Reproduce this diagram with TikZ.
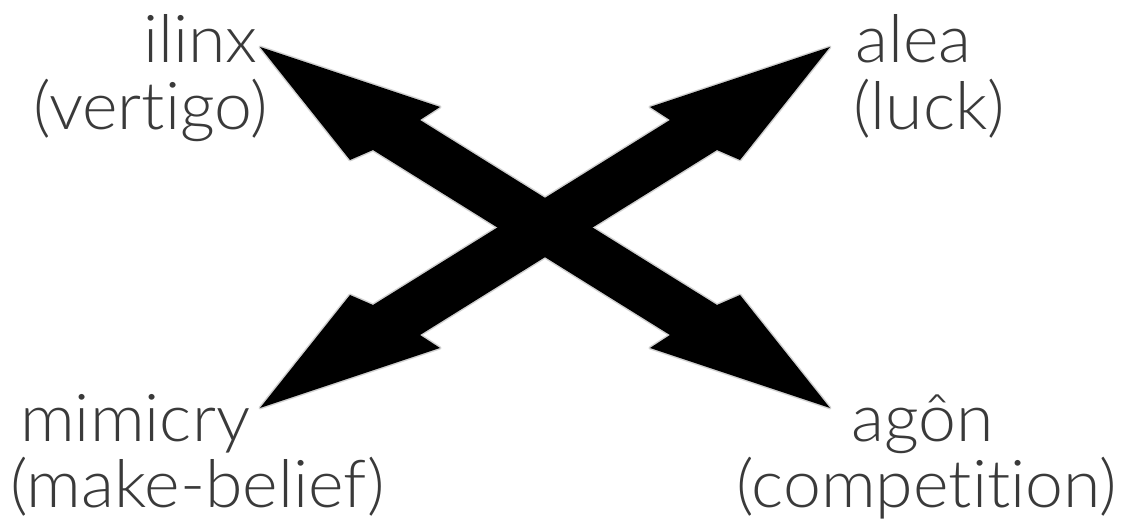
\documentclass[tikz,border=0pt]{standalone}
\usepackage{fontspec}
\setmainfont{Lato Light}[Ligatures=NoCommon, FakeStretch=1.03]
\definecolor{labelgray}{RGB}{58,58,58}
\begin{document}
\begin{tikzpicture}[x=1pt,y=-1pt,
  lbl/.style={inner sep=0pt, font=\fontsize{66}{67}\selectfont, text=labelgray},
  bigarrow/.style={fill=black, draw=black!18, line width=3pt, line join=round}]
\useasboundingbox (0,0) rectangle (1128,526);
% arrow tips
\coordinate (tIlinx) at (260,47);
\coordinate (tAgon) at (830,408);
\coordinate (tAlea) at (830,47);
\coordinate (tMimicry) at (260,408);
% double arrow ilinx <-> agon
\path[bigarrow] (tIlinx) -- (440,107) -- (420,120) -- (717,305) -- (740,295) -- (tAgon)
  -- (650,348) -- (670,335) -- (373,150) -- (350,160) -- cycle;
% double arrow alea <-> mimicry
\path[bigarrow] (tAlea) -- (650,107) -- (670,120) -- (373,305) -- (350,295) -- (tMimicry)
  -- (440,348) -- (420,335) -- (717,150) -- (740,160) -- cycle;
\fill[black] (tIlinx) -- (440,107) -- (420,120) -- (717,305) -- (740,295) -- (tAgon)
  -- (650,348) -- (670,335) -- (373,150) -- (350,160) -- cycle;
\fill[black] (tAlea) -- (650,107) -- (670,120) -- (373,305) -- (350,295) -- (tMimicry)
  -- (440,348) -- (420,335) -- (717,150) -- (740,160) -- cycle;
% labels
\node[lbl, anchor=base west] (ilinx) at (143,63) {ilinx};
\node[lbl, anchor=base west] (vertigo) at (33,130) {(vertigo)};
\node[lbl, anchor=base west] (alea) at (855,63) {alea};
\node[lbl, anchor=base west] (luck) at (853,130) {(luck)};
\node[lbl, anchor=base west] (mimicry) at (20,442) {mimicry};
\node[lbl, anchor=base west] (makebelief) at (10,508) {(make-belief)};
\node[lbl, anchor=base west] (agon) at (851,442) {agôn};
\node[lbl, anchor=base west] (competition) at (736,508) {(competition)};
\end{tikzpicture}
\end{document}
